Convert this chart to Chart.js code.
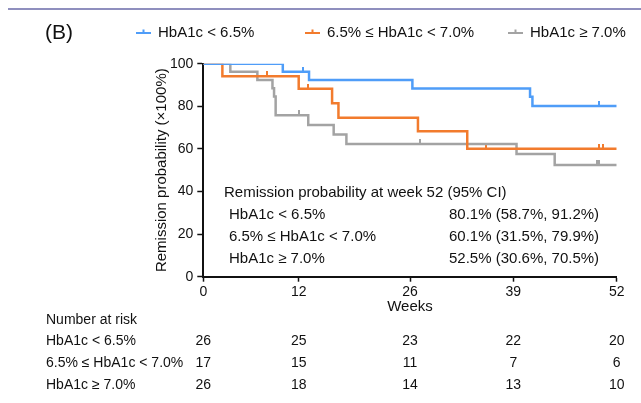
<!DOCTYPE html>
<html>
<head>
<meta charset="utf-8">
<script src="https://cdn.jsdelivr.net/npm/chart.js@4.4.1/dist/chart.umd.min.js"></script>
<style>
  html, body { margin: 0; padding: 0; background: #fff; }
  canvas { display: block; }
</style>
</head>
<body>
<canvas id="km" width="641" height="403"></canvas>
<script>
// Data
const groups = ['HbA1c < 6.5%', '6.5% ≤ HbA1c < 7.0%', 'HbA1c ≥ 7.0%'];
const weekTicks = [0, 12, 26, 39, 52];

const lowWeeks = [0, 10.0, 13.3, 26.3, 41.1, 41.4, 52];
const lowSurv = [100, 96.2, 92.3, 88.4, 84.5, 80.1, 80.1];
const lowCensorWeeks = [12.6, 49.8];
const lowCensorSurv = [96.2, 80.1];

const midWeeks = [0, 2.4, 12.0, 16.2, 17.0, 27.0, 33.2, 52];
const midSurv = [100, 94.1, 88.2, 81.4, 74.6, 68.3, 60.1, 60.1];
const midCensorWeeks = [8.0, 13.2, 35.6, 49.8, 50.3];
const midCensorSurv = [94.1, 88.2, 60.1, 60.1, 60.1];

const highWeeks = [0, 3.4, 6.8, 8.7, 8.9, 9.1, 13.2, 16.4, 18.0, 39.4, 44.2, 52];
const highSurv = [100, 96.2, 92.3, 88.5, 84.6, 75.8, 71.2, 66.8, 62.3, 57.6, 52.5, 52.5];
const highCensorWeeks = [12.1, 27.2, 49.5, 49.8];
const highCensorSurv = [75.8, 62.3, 52.5, 52.5];

const estAt52 = [80.1, 60.1, 52.5];
const ciLow = [58.7, 31.5, 30.6];
const ciHigh = [91.2, 79.9, 70.5];

const riskLow = [26, 25, 23, 22, 20];
const riskMid = [17, 15, 11, 7, 6];
const riskHigh = [26, 18, 14, 13, 10];

const colors = ['#4f9df8', '#f27b2d', '#a3a3a3'];
const FONT = '"Liberation Sans", Arial, Helvetica, sans-serif';

function toPoints(xs, ys) {
  return xs.map((x, i) => ({ x: x, y: ys[i] }));
}

// small upward tick used as censor mark
function censorMark(color) {
  const c = document.createElement('canvas');
  c.width = 2;
  c.height = 10;
  const g = c.getContext('2d');
  g.fillStyle = color;
  g.fillRect(0, 0, 2, 5);
  return c;
}

function kmLine(label, xs, ys, color) {
  return {
    type: 'line',
    label: label,
    data: toPoints(xs, ys),
    borderColor: color,
    borderWidth: 2.5,
    stepped: 'before',
    pointRadius: 0,
    fill: false
  };
}

function censorSet(xs, ys, color) {
  return {
    type: 'scatter',
    label: '',
    data: toPoints(xs, ys),
    pointStyle: censorMark(color),
    pointRadius: 3,
    borderColor: color,
    backgroundColor: color
  };
}

const extras = {
  id: 'extras',
  afterDraw(chart) {
    const ctx = chart.ctx;
    const xs = chart.scales.x;
    ctx.save();

    // top rule
    ctx.strokeStyle = '#6a6aa8';
    ctx.lineWidth = 1.5;
    ctx.beginPath();
    ctx.moveTo(8, 9);
    ctx.lineTo(641, 9);
    ctx.stroke();

    // panel letter
    ctx.fillStyle = '#111';
    ctx.textBaseline = 'middle';
    ctx.textAlign = 'left';
    ctx.font = '21px ' + FONT;
    ctx.fillText('(B)', 45, 33);

    // legend
    const legendX = [136, 305, 508];
    ctx.font = '15px ' + FONT;
    groups.forEach((g, i) => {
      const x0 = legendX[i];
      ctx.strokeStyle = colors[i];
      ctx.lineWidth = 2;
      ctx.beginPath();
      ctx.moveTo(x0, 33);
      ctx.lineTo(x0 + 15, 33);
      ctx.moveTo(x0 + 7.5, 33);
      ctx.lineTo(x0 + 7.5, 29.5);
      ctx.stroke();
      ctx.fillStyle = '#111';
      ctx.fillText(g, x0 + 22, 33);
    });

    // estimates at week 52
    ctx.font = '15px ' + FONT;
    ctx.fillText('Remission probability at week 52 (95% CI)', 224, 193);
    groups.forEach((g, i) => {
      const y = 215 + i * 21.7;
      ctx.fillText(g, 229, y);
      ctx.fillText(estAt52[i].toFixed(1) + '% (' + ciLow[i].toFixed(1) + '%, ' + ciHigh[i].toFixed(1) + '%)', 449, y);
    });

    // number at risk
    ctx.font = '14px ' + FONT;
    ctx.fillText('Number at risk', 46, 320);
    const rows = [riskLow, riskMid, riskHigh];
    rows.forEach((row, i) => {
      const y = 341 + i * 22;
      ctx.textAlign = 'left';
      ctx.fillText(groups[i], 46, y);
      ctx.textAlign = 'center';
      row.forEach((n, j) => {
        ctx.fillText(String(n), xs.getPixelForValue(weekTicks[j]), y);
      });
    });
    ctx.restore();
  }
};

new Chart(document.getElementById('km'), {
  data: {
    datasets: [
      kmLine(groups[0], lowWeeks, lowSurv, colors[0]),
      kmLine(groups[1], midWeeks, midSurv, colors[1]),
      kmLine(groups[2], highWeeks, highSurv, colors[2]),
      censorSet(lowCensorWeeks, lowCensorSurv, colors[0]),
      censorSet(midCensorWeeks, midCensorSurv, colors[1]),
      censorSet(highCensorWeeks, highCensorSurv, colors[2])
    ]
  },
  options: {
    responsive: false,
    animation: false,
    devicePixelRatio: 1,
    layout: { padding: { left: 153, right: 24.3, top: 63.7, bottom: 86.7 } },
    plugins: {
      legend: { display: false },
      tooltip: { enabled: false }
    },
    scales: {
      x: {
        type: 'linear',
        min: 0,
        max: 52,
        afterBuildTicks: (scale) => { scale.ticks = weekTicks.map(v => ({ value: v })); },
        afterFit: (scale) => { scale.height = 39.6; },
        ticks: { color: '#111', font: { size: 14, family: FONT }, padding: 2, maxRotation: 0 },
        grid: { drawOnChartArea: false, drawTicks: true, tickLength: 5, color: '#111', tickWidth: 1.5 },
        border: { color: '#111', width: 2 },
        title: { display: true, text: 'Weeks', color: '#111', font: { size: 15, family: FONT }, padding: 0 }
      },
      y: {
        min: 0,
        max: 100,
        afterFit: (scale) => { scale.width = 50.3; },
        ticks: { stepSize: 20, color: '#111', font: { size: 14, family: FONT }, padding: 4 },
        grid: { drawOnChartArea: false, drawTicks: true, tickLength: 6, color: '#111', tickWidth: 1.5 },
        border: { color: '#111', width: 2 },
        title: { display: true, text: 'Remission probability (×100%)', color: '#111', font: { size: 15, family: FONT }, padding: 0 }
      }
    }
  },
  plugins: [extras]
});
</script>
</body>
</html>
